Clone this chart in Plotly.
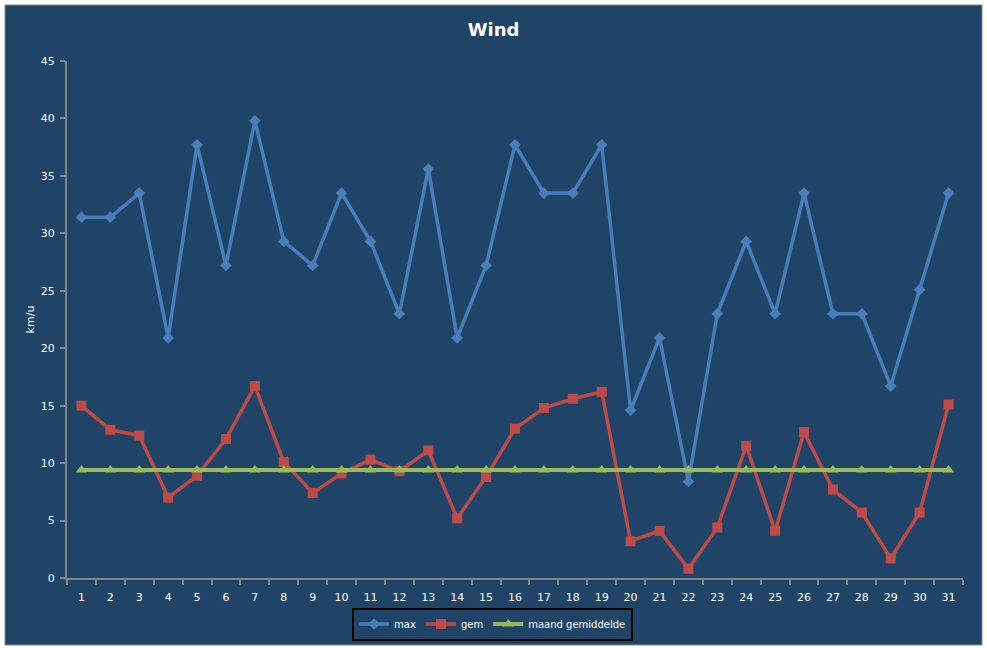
import plotly.graph_objects as go

# dagen van de maand
dagen = [str(d) for d in range(1, 32)]

# windsnelheid km/u
wind_max = [31.4, 31.4, 33.5, 20.9, 37.7, 27.2, 39.8, 29.3, 27.2, 33.5,
            29.3, 23.0, 35.6, 20.9, 27.2, 37.7, 33.5, 33.5, 37.7, 14.6,
            20.9, 8.4, 23.0, 29.3, 23.0, 33.5, 23.0, 23.0, 16.7, 25.1, 33.5]
wind_gem = [15.0, 12.9, 12.4, 7.0, 8.9, 12.1, 16.7, 10.1, 7.4, 9.1,
            10.3, 9.3, 11.1, 5.2, 8.8, 13.0, 14.8, 15.6, 16.2, 3.2,
            4.1, 0.8, 4.4, 11.5, 4.1, 12.7, 7.7, 5.7, 1.7, 5.7, 15.1]
maand_gem = [9.4, 9.4, 9.4, 9.4, 9.4, 9.4, 9.4, 9.4, 9.4, 9.4,
             9.4, 9.4, 9.4, 9.4, 9.4, 9.4, 9.4, 9.4, 9.4, 9.4,
             9.4, 9.4, 9.4, 9.4, 9.4, 9.4, 9.4, 9.4, 9.4, 9.4, 9.4]

achtergrond = "#1F4467"
asgrijs = "#868686"

fig = go.Figure()

fig.add_trace(go.Scatter(x=dagen, y=wind_max, name="max", mode="lines+markers",
                         line=dict(color="#4A7EBB", width=3.5),
                         marker=dict(symbol="diamond", size=9, color="#4A7EBB")))
fig.add_trace(go.Scatter(x=dagen, y=wind_gem, name="gem", mode="lines+markers",
                         line=dict(color="#BE4B48", width=3.5),
                         marker=dict(symbol="square", size=10, color="#BE4B48")))
fig.add_trace(go.Scatter(x=dagen, y=maand_gem, name="maand gemiddelde", mode="lines+markers",
                         line=dict(color="#98B954", width=4),
                         marker=dict(symbol="triangle-up", size=10, color="#98B954")))

# layout
fig.update_layout(
    width=987, height=648,
    paper_bgcolor="white",
    plot_bgcolor="rgba(0,0,0,0)",
    margin=dict(l=67, r=24, t=61, b=70, autoexpand=False),
    font=dict(family="DejaVu Sans, Verdana, sans-serif", size=11, color="white"),
    title=dict(text="<b>Wind</b>", x=0.5, xanchor="center", y=1 - 30 / 648, yanchor="middle",
               font=dict(family="DejaVu Sans, sans-serif", size=18, color="white")),
    showlegend=True,
    legend=dict(orientation="h", x=0.475, xanchor="center", y=-0.089, yanchor="middle",
                bgcolor=achtergrond, bordercolor="black", borderwidth=2,
                font=dict(size=10, color="white"), itemwidth=30, tracegroupgap=0),
    # donkerblauwe kaart met grijze rand
    shapes=[dict(type="rect", xref="paper", yref="paper", layer="below",
                 x0=(5 - 67) / 896, x1=(982 - 67) / 896,
                 y0=(578 - 645) / 517, y1=(578 - 5) / 517,
                 fillcolor=achtergrond, line=dict(color=asgrijs, width=1))]
)

# assen
fig.update_xaxes(type="category", range=[-0.5, 30.5], tickson="boundaries", ticks="outside",
                 ticklen=5, tickcolor=asgrijs, tickwidth=2, showline=True, linecolor=asgrijs,
                 linewidth=2, showgrid=False, zeroline=False, automargin=False,
                 ticklabelstandoff=8, tickfont=dict(size=11, color="white"))
fig.update_yaxes(range=[0, 45], dtick=5, ticks="outside", ticklen=5, tickcolor=asgrijs, tickwidth=2,
                 showline=True, linecolor=asgrijs, linewidth=2, showgrid=False, zeroline=False,
                 automargin=False, ticklabelstandoff=3,
                 title=dict(text="km/u", font=dict(size=11, color="white"), standoff=4),
                 tickfont=dict(size=11, color="white"))

# zonder body-marge zodat de figuur precies in het venster past
fig.write_html("out.html", config={"displayModeBar": False},
               post_script="document.body.style.margin='0';")
